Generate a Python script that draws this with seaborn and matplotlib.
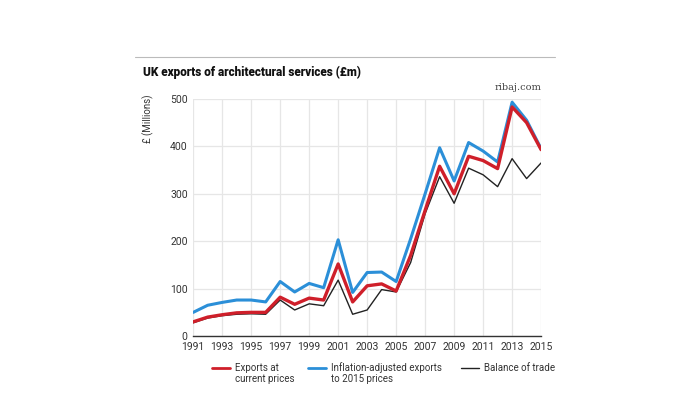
import matplotlib
matplotlib.use("Agg")
import matplotlib.pyplot as plt
import seaborn as sns
import pandas as pd
from matplotlib.lines import Line2D

years = list(range(1991, 2016))
exports_current = [30, 40, 45, 49, 50, 50, 82, 67, 80, 76, 152, 72, 106, 110, 95,
                   170, 265, 358, 300, 379, 370, 353, 483, 450, 393]
exports_adjusted = [50, 65, 71, 76, 76, 72, 115, 93, 111, 102, 203, 92, 134, 135, 115,
                    205, 300, 397, 327, 408, 390, 367, 493, 455, 395]
balance_trade = [28, 38, 43, 46, 47, 46, 76, 55, 68, 64, 118, 46, 55, 98, 93,
                 155, 258, 336, 280, 354, 340, 315, 374, 332, 365]
series_names = ["Exports at current prices", "Inflation-adjusted exports to 2015 prices", "Balance of trade"]
legend_line1 = ["Exports at", "Inflation-adjusted exports", "Balance of trade"]
legend_line2 = ["current prices", "to 2015 prices", ""]
tick_years = list(range(1991, 2016, 2))
y_ticks = [0, 100, 200, 300, 400, 500]

df = pd.DataFrame({
    "year": years * 3,
    "value": exports_current + exports_adjusted + balance_trade,
    "series": [series_names[0]] * len(years) + [series_names[1]] * len(years) + [series_names[2]] * len(years),
})

sns.set_theme(style="white")
plt.rcParams['font.family'] = ['Roboto', 'DejaVu Sans']

fig = plt.figure(figsize=(7, 3.94), dpi=100)
ax = fig.add_axes([0.276, 0.147, 0.497, 0.602])

colors = {series_names[0]: "#cf1f2a", series_names[1]: "#2b8fd8", series_names[2]: "#222222"}
widths = {series_names[0]: 2.4, series_names[1]: 2.2, series_names[2]: 1.0}
for name in [series_names[1], series_names[2], series_names[0]]:
    sub = df[df["series"] == name]
    sns.lineplot(data=sub, x="year", y="value", ax=ax, color=colors[name],
                 linewidth=widths[name], legend=False)

ax.set_xlim(1991, 2015)
ax.set_ylim(0, 500)
ax.set_xticks(tick_years)
ax.set_xticklabels([str(y) for y in tick_years], fontsize=7.5, color="#333333")
ax.set_yticks(y_ticks)
ax.set_yticklabels([str(v) for v in y_ticks], fontsize=7.5, color="#333333")
ax.grid(True, color="#e6e6e6", linewidth=0.9)
ax.set_axisbelow(True)
for s in ["top", "right", "left"]:
    ax.spines[s].set_visible(False)
ax.spines["bottom"].set_color("#333333")
ax.spines["bottom"].set_linewidth(1.0)
ax.tick_params(axis="both", length=0, pad=4)
ax.set_xlabel("")
ax.set_ylabel("")

fig.text(148 / 700, 1 - 119 / 394, "£ (Millions)", rotation=90, fontsize=7,
         color="#333333", ha="center", va="center")
fig.text(143 / 700, 1 - 72 / 394, "UK exports of architectural services (£m)",
         fontsize=8.5, fontweight="black", color="#111111", ha="left", va="center")
fig.text(541 / 700, 1 - 88 / 394, "ribaj.com", fontsize=7, color="#444444",
         family="DejaVu Serif", ha="right", va="center")
fig.add_artist(Line2D([135 / 700, 555 / 700], [1 - 57 / 394, 1 - 57 / 394],
                      color="#bbbbbb", linewidth=0.8, transform=fig.transFigure))

legend_x = [212, 308, 461]
legends = []
for name, l1, lx in zip(series_names, legend_line1, legend_x):
    h = Line2D([0], [0], color=colors[name], linewidth=min(widths[name], 2.0))
    leg = fig.legend([h], [l1], loc="center left", bbox_to_anchor=(lx / 700, 1 - 368 / 394),
                     frameon=False, fontsize=7, handlelength=1.8, handletextpad=0.55,
                     borderpad=0, borderaxespad=0, labelcolor="#333333")
    legends.append(leg)

fig.canvas.draw()
renderer = fig.canvas.get_renderer()
for leg, l2 in zip(legends, legend_line2):
    if not l2:
        continue
    bb = leg.get_texts()[0].get_window_extent(renderer)
    x0 = bb.x0 / fig.bbox.width
    fig.text(x0, 1 - 379 / 394, l2, fontsize=7, color="#333333", ha="left", va="center")

fig.savefig("out.png", dpi=100, facecolor="white")
